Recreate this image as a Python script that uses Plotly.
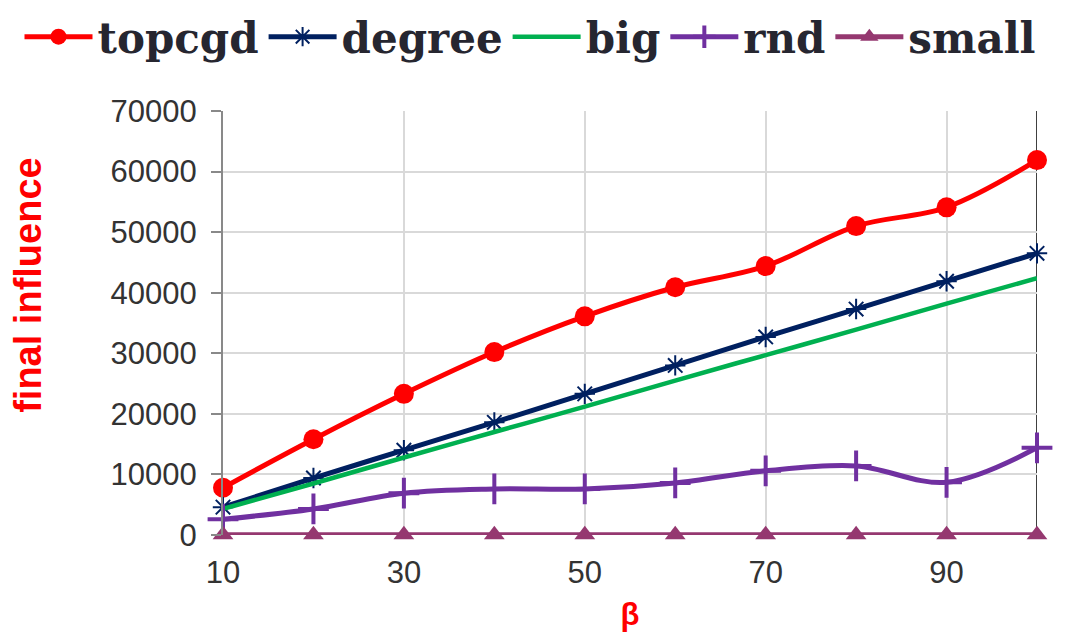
import plotly.graph_objects as go

beta = [10, 20, 30, 40, 50, 60, 70, 80, 90, 100]
topcgd = [7800, 15800, 23300, 30200, 36100, 40900, 44400, 51000, 54100, 61900]
degree = [4600, 9400, 14000, 18600, 23300, 28000, 32700, 37300, 41900, 46500]
big = [4300, 8500, 12800, 17000, 21200, 25500, 29700, 33900, 38200, 42400]
rnd = [2600, 4300, 6900, 7600, 7600, 8600, 10600, 11400, 8700, 14400]
small = [50, 50, 50, 50, 50, 50, 50, 50, 50, 50]

x_ticks = [10, 30, 50, 70, 90]
y_ticks = [0, 10000, 20000, 30000, 40000, 50000, 60000, 70000]
y_labels = [str(v) for v in y_ticks]

fig = go.Figure()
fig.add_trace(go.Scatter(x=beta, y=topcgd, name="topcgd", mode="lines+markers",
                         line=dict(color="#FF0000", width=5, shape="spline"),
                         marker=dict(symbol="circle", size=20, color="#FF0000")))
fig.add_trace(go.Scatter(x=beta, y=degree, name="degree", mode="lines+markers",
                         line=dict(color="#002060", width=5, shape="spline"),
                         marker=dict(symbol="asterisk-open", size=17, color="#002060",
                                     line=dict(color="#002060", width=2))))
fig.add_trace(go.Scatter(x=beta, y=big, name="big", mode="lines",
                         line=dict(color="#00B050", width=4.5, shape="spline")))
fig.add_trace(go.Scatter(x=beta, y=rnd, name="rnd", mode="lines+markers",
                         line=dict(color="#7030A0", width=5, shape="spline"),
                         marker=dict(symbol="cross-thin-open", size=22, color="#7030A0",
                                     line=dict(color="#7030A0", width=4))))
fig.add_trace(go.Scatter(x=beta, y=small, name="small", mode="lines+markers",
                         line=dict(color="#953870", width=5, shape="spline"),
                         marker=dict(symbol="triangle-up", size=18, color="#953870")))

fig.add_shape(type="line", x0=100, x1=100, y0=0, y1=70000, xref="x", yref="y",
              line=dict(color="#404040", width=2), layer="below")

fig.add_annotation(text="final influence", xref="paper", yref="paper",
                   x=-0.2396, y=0.59, xanchor="center", yanchor="middle",
                   textangle=-90, showarrow=False,
                   font=dict(family="Liberation Sans", size=38, color="#FF0000", weight="bold"))

fig.update_traces(cliponaxis=False)

fig.update_layout(
    width=1074, height=642,
    margin=dict(l=215, r=45, t=103, b=115, autoexpand=False),
    plot_bgcolor="white", paper_bgcolor="white",
    font=dict(family="Liberation Sans", color="#333333"),
    showlegend=True,
    legend=dict(orientation="h", x=-0.25, xanchor="left", xref="paper",
                y=1.255, yref="paper", yanchor="top",
                font=dict(family="DejaVu Serif", size=42, color="#262630", weight="bold"),
                itemwidth=68, tracegroupgap=0, bgcolor="rgba(0,0,0,0)"),
    xaxis=dict(range=[10, 100], tickvals=x_ticks, showgrid=True, gridcolor="#D9D9D9",
               gridwidth=2, showline=False, zeroline=False, ticks="",
               ticklabelstandoff=16,
               tickfont=dict(family="Liberation Sans", size=31, color="#333333"),
               title=dict(text="β", font=dict(family="Liberation Sans", size=31,
                                              color="#FF0000", weight="bold"),
                          standoff=14)),
    yaxis=dict(range=[0, 70000], tickvals=y_ticks, ticktext=y_labels, showgrid=True,
               gridcolor="#D9D9D9", gridwidth=2, showline=True, linecolor="#898989",
               linewidth=2, zeroline=False, ticks="outside", ticklen=10,
               tickcolor="#898989", tickwidth=2, ticklabelstandoff=8,
               tickfont=dict(family="Liberation Sans", size=31, color="#333333")),
)

fig.write_html("out.html")
